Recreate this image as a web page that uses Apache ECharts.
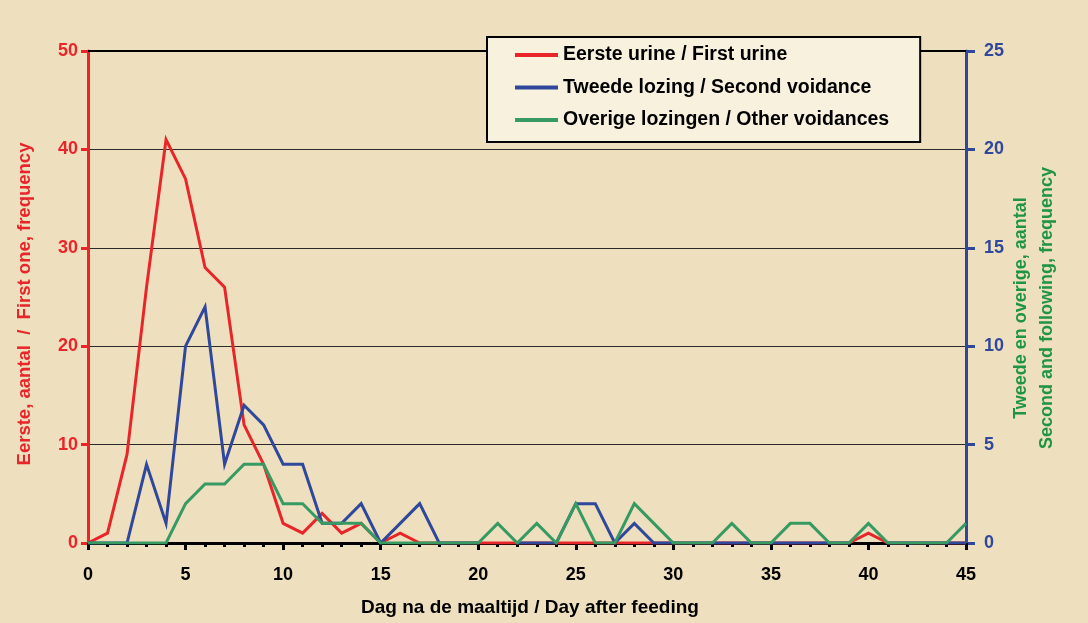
<!DOCTYPE html>
<html>
<head>
<meta charset="utf-8">
<script src="https://cdn.jsdelivr.net/npm/echarts@6/dist/echarts.min.js"></script>
<style>
html,body{margin:0;padding:0;background:#EEE0BE;}
#chart{width:1088px;height:623px;}
</style>
</head>
<body>
<div id="chart"></div>
<script>
var days = [0,1,2,3,4,5,6,7,8,9,10,11,12,13,14,15,16,17,18,19,20,21,22,23,24,25,26,27,28,29,30,31,32,33,34,35,36,37,38,39,40,41,42,43,44,45];
var firstUrine = [0,1,9,26,41,37,28,26,12,8,2,1,3,1,2,0,1,0,0,0,0,0,0,0,0,0,0,0,0,0,0,0,0,0,0,0,0,0,0,0,1,0,0,0,0,0];
var secondVoidance = [0,0,0,4,1,10,12,4,7,6,4,4,1,1,2,0,1,2,0,0,0,null,0,0,0,2,2,0,1,0,0,0,0,0,0,0,0,0,0,0,null,0,0,0,0,0];
var otherVoidances = [0,0,0,0,0,2,3,3,4,4,2,2,1,1,1,0,0,0,0,0,0,1,0,1,0,2,0,0,2,1,0,0,0,1,0,0,1,1,0,0,1,0,0,0,0,1];
var seriesNames = ['Eerste urine / First urine','Tweede lozing / Second voidance','Overige lozingen / Other voidances'];
var xTitle = 'Dag na de maaltijd / Day after feeding';
var leftTitle = 'Eerste, aantal  /  First one, frequency';
var rightTitle = ['Tweede en overige, aantal','Second and following, frequency'];

var FONT = '"Liberation Sans", Arial, sans-serif';
var RED = '#E8262A', BLUE = '#30489B', GREEN = '#379A62', TITLEGREEN = '#1F9442';

function pairs(arr){ return days.map(function(d,i){ return [d, arr[i]]; }); }

var chart = echarts.init(document.getElementById('chart'), null, {renderer:'canvas'});
chart.setOption({
  animation:false,
  backgroundColor:'#EEE0BE',
  grid:{left:88, right:122, top:51, bottom:80},
  legend:{
    orient:'vertical', left:487, top:37,
    backgroundColor:'#F7F1DE', borderColor:'#000', borderWidth:2,
    padding:[8,31,12,28], itemGap:12.5, itemWidth:43, itemHeight:4, icon:'rect',
    textStyle:{fontFamily:FONT, fontWeight:'bold', fontSize:19.5, color:'#000'},
    data:seriesNames
  },
  xAxis:[{
    type:'value', min:0, max:45, interval:5,
    axisLine:{onZero:false, lineStyle:{color:'#000', width:3}},
    axisTick:{show:true, length:7, lineStyle:{color:'#000', width:3}},
    minorTick:{show:true, splitNumber:5, length:4, lineStyle:{color:'#000', width:3}},
    axisLabel:{margin:23, color:'#000', fontFamily:FONT, fontWeight:'bold', fontSize:18},
    splitLine:{show:false}
  },{
    type:'value', min:0, max:45, position:'top',
    axisLine:{show:true, onZero:false, lineStyle:{color:'#000', width:2}},
    axisTick:{show:false}, axisLabel:{show:false}, splitLine:{show:false}
  }],
  yAxis:[{
    type:'value', min:0, max:50, interval:10, position:'left',
    axisLine:{show:true, onZero:false, lineStyle:{color:RED, width:3}},
    axisTick:{show:true, length:7, lineStyle:{color:RED, width:3}},
    axisLabel:{margin:10, color:RED, fontFamily:FONT, fontWeight:'bold', fontSize:18},
    splitLine:{show:true, lineStyle:{color:'#2a2a2a', width:1}}
  },{
    type:'value', min:0, max:25, interval:5, position:'right',
    axisLine:{show:true, onZero:false, lineStyle:{color:BLUE, width:3}},
    axisTick:{show:true, length:9, lineStyle:{color:BLUE, width:3}},
    axisLabel:{margin:18, color:BLUE, fontFamily:FONT, fontWeight:'bold', fontSize:18},
    splitLine:{show:false}
  }],
  graphic:[
    {type:'text', x:25, y:304, rotation:Math.PI/2,
     style:{text:leftTitle, fill:RED, font:'bold 18.5px '+FONT, textAlign:'center', textVerticalAlign:'middle'}},
    {type:'text', x:1034, y:308, rotation:Math.PI/2,
     style:{text:rightTitle.join('\n'), fill:TITLEGREEN, font:'bold 18px '+FONT, textAlign:'center', textVerticalAlign:'middle', lineHeight:26}},
    {type:'text', x:530, y:608,
     style:{text:xTitle, fill:'#000', font:'bold 19px '+FONT, textAlign:'center', textVerticalAlign:'middle'}}
  ],
  series:[
    {name:seriesNames[0], type:'line', yAxisIndex:0, data:pairs(firstUrine), showSymbol:false, symbol:'none',
     lineStyle:{color:RED, width:3, join:'miter'}, itemStyle:{color:RED}},
    {name:seriesNames[1], type:'line', yAxisIndex:1, data:pairs(secondVoidance), showSymbol:false, symbol:'none', connectNulls:false,
     lineStyle:{color:BLUE, width:3, join:'miter'}, itemStyle:{color:BLUE}},
    {name:seriesNames[2], type:'line', yAxisIndex:1, data:pairs(otherVoidances), showSymbol:false, symbol:'none',
     lineStyle:{color:GREEN, width:3, join:'miter'}, itemStyle:{color:GREEN}}
  ]
});
</script>
</body>
</html>
